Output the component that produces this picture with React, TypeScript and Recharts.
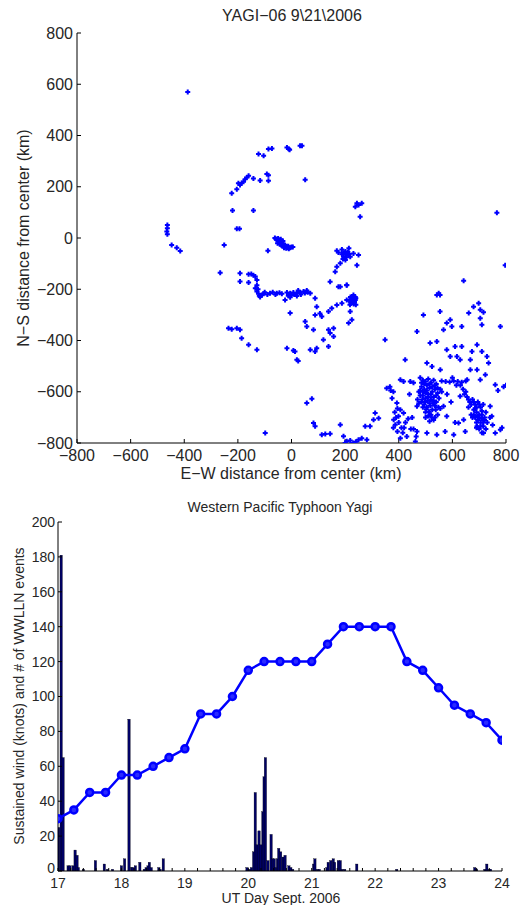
import React from "react";
import { Bar, ComposedChart, Line, Scatter, ScatterChart, XAxis, YAxis } from "recharts";

const FONT = "'Liberation Sans', Arial, Helvetica, sans-serif";
const INK = "#262626";

// ---- top panel: WWLLN strokes relative to storm center, km (E-W, N-S)
const farStrokes: [number, number][] = [
  [-387, 570], [-463, 51], [-463, 38], [-465, 25], [-463, 15], [-447, -27], [-428, -38], [-415, -51],
  [-251, -27], [766, 99], [797, -106], [642, -167], [549, -216], [554, -222], [-98, -761],
];
const northArc: [number, number][] = [
  [-223, 175], [-204, 190], [-198, 214], [-192, 207], [-186, 215], [-179, 220], [-173, 229], [-167, 236],
  [-160, 243], [-142, 232], [-117, 224], [-92, 250], [-86, 245], [-86, 223], [51, 227], [-220, 107],
  [-142, 107], [-204, 36], [-194, 36], [-123, 328], [-104, 321], [-86, 347], [-73, 349], [-17, 353],
  [-10, 347], [-7, 344], [32, 360], [39, 360], [244, 136], [250, 129], [262, 136], [238, 122], [256, 83],
];
const eyeStrokes: [number, number][] = [
  [-62, 0], [-55, -8], [-48, -12], [-42, -15], [-36, -18], [-30, -22], [-24, -28], [-18, -32], [-12, -32],
  [-5, -38], [0, -35], [-50, -2], [-58, -4], [-45, -8], [-32, -12], [-38, -28], [-28, -38], [-20, -40],
  [-10, -42], [5, -35], [-88, -50], [-52, -20], [-40, -5], [-44, -24], [-34, -30], [-15, -38],
];
const eastBand: [number, number][] = [
  [169, -50], [175, -57], [188, -63], [201, -53], [214, -40], [206, -66], [194, -73], [219, -73], [201, -86],
  [182, -99], [169, -112], [163, -132], [244, -106], [250, -66], [231, -60], [188, -45], [196, -58], [210, -55],
  [144, -171], [175, -190], [206, -184], [205, -75], [192, -82], [215, -62],
];
const southArc: [number, number][] = [
  [-266, -136], [-192, -138], [-160, -141], [-142, -145], [-150, -140], [-135, -150], [-192, -170],
  [-160, -174], [-129, -164], [-129, -184], [-135, -196], [-129, -209], [-123, -218], [-104, -218],
  [-80, -216], [-55, -216], [-36, -218], [-17, -213], [-5, -216], [7, -213], [20, -216], [32, -213],
  [45, -209], [57, -205], [70, -216], [-24, -242], [-5, -231], [20, -226], [10, -220], [0, -222],
  [-12, -225], [-110, -222], [-117, -230], [88, -235], [94, -268], [88, -300], [113, -306], [106, -295],
  [138, -287], [150, -274], [169, -261], [188, -255], [206, -242], [225, -235], [231, -222], [206, -183],
  [182, -190], [238, -242], [219, -287], [213, -332], [225, -319], [238, -230], [228, -250], [218, -260],
  [-125, -200], [-120, -225], [-100, -212], [-90, -220], [-70, -212], [-60, -220], [-45, -214],
  [25, -205], [35, -220], [50, -215], [60, -212], [220, -230], [225, -240], [230, -245], [235, -250],
  [240, -235], [222, -255], [232, -258], [240, -260], [215, -245],
];
const innerSouth: [number, number][] = [
  [-5, -293], [57, -345], [51, -326], [82, -358], [144, -371], [138, -358], [157, -384], [119, -397],
  [138, -423], [70, -436], [88, -443], [94, -430], [7, -439], [-17, -430], [20, -475], [13, -443],
  [157, -352], [25, -480], [-235, -352], [-223, -356], [-204, -352], [-192, -358], [-186, -391],
  [-160, -417], [-129, -436],
];
const southBand: [number, number][] = [
  [57, -644], [76, -627], [82, -722], [88, -735], [113, -768], [126, -765], [144, -764], [182, -729],
  [194, -774], [206, -793], [219, -790], [250, -787], [262, -781], [281, -787], [275, -735], [293, -735],
  [306, -709], [325, -703], [312, -683], [230, -800], [200, -800], [240, -795],
];
const rainband: [number, number][] = [
  [349, -397], [355, -586], [367, -580], [380, -600], [393, -644], [406, -670], [418, -683], [381, -709],
  [387, -729], [399, -696], [375, -625], [370, -595], [424, -475], [406, -553], [418, -560], [443, -560],
  [455, -565], [468, -365], [492, -300], [542, -222], [554, -287], [542, -404], [517, -410], [505, -488],
  [524, -501], [555, -514], [567, -358], [579, -332], [592, -319], [598, -345], [635, -345], [610, -423],
  [635, -423], [579, -436], [592, -462], [617, -462], [629, -475], [667, -475], [673, -443], [710, -443],
  [692, -417], [729, -462], [735, -488], [692, -514], [704, -553], [723, -534], [667, -514], [655, -553],
  [679, -268], [698, -255], [704, -280], [716, -290], [704, -313], [710, -339], [661, -293], [779, -345],
  [760, -573], [791, -580], [770, -595], [800, -575], [390, -700], [400, -720], [410, -740], [395, -755],
  [380, -740], [415, -760], [425, -720], [435, -705], [385, -680], [395, -665], [455, -745], [465, -775],
];
const denseWest: [number, number][] = [
  [480, -545], [490, -555], [500, -560], [510, -550], [520, -565], [530, -555], [540, -570], [485, -580],
  [495, -590], [505, -595], [515, -585], [525, -600], [535, -590], [545, -605], [490, -615], [500, -625],
  [510, -610], [520, -630], [530, -620], [540, -640], [495, -650], [505, -660], [515, -645], [525, -670],
  [535, -655], [500, -680], [510, -695], [520, -690], [530, -710], [545, -690], [475, -600], [470, -630],
  [485, -640], [550, -625], [560, -600], [560, -558], [575, -560], [590, -562], [605, -558], [620, -560],
  [635, -563], [650, -558], [600, -545], [615, -575], [485, -565], [495, -570], [505, -575], [515, -570],
  [525, -580], [535, -575], [545, -585], [555, -590], [480, -595], [490, -600], [500, -605], [510, -620],
  [520, -610], [530, -635], [540, -615], [488, -630], [498, -640], [508, -635], [518, -655], [528, -645],
  [538, -670], [548, -660], [503, -668], [513, -678], [523, -700], [535, -700], [515, -715], [500, -700],
  [490, -660], [480, -615],
];
const denseEast: [number, number][] = [
  [655, -620], [665, -640], [675, -630], [685, -650], [695, -640], [705, -660], [715, -650], [680, -670],
  [690, -680], [700, -690], [710, -675], [720, -700], [695, -710], [705, -720], [715, -735], [685, -700],
  [670, -690], [725, -680], [700, -745], [710, -760], [690, -740], [650, -600], [640, -590], [630, -575],
  [660, -660], [740, -700], [750, -730], [760, -761], [779, -748], [785, -740], [716, -761], [692, -735],
  [648, -755], [605, -768], [573, -755], [542, -768], [505, -761], [468, -755], [462, -794], [406, -781],
  [430, -775], [642, -709], [623, -722], [610, -720], [579, -696], [567, -657], [555, -665], [741, -657],
  [747, -696], [629, -618], [645, -610], [468, -657], [475, -645], [440, -610], [450, -700], [420, -740],
  [445, -745], [595, -640], [580, -610], [660, -630], [670, -650], [680, -640], [690, -660], [700, -650],
  [710, -690], [720, -710], [730, -720], [700, -700], [690, -720], [680, -690], [710, -705], [725, -745],
  [705, -735], [695, -695], [685, -665], [675, -700], [715, -720],
];
const kmTicks = [-800, -600, -400, -200, 0, 200, 400, 600, 800];

// ---- bottom panel: best-track wind (6-hourly) and WWLLN event counts
const windDay = [
  17, 17.25, 17.5, 17.75, 18, 18.25, 18.5, 18.75, 19, 19.25, 19.5, 19.75, 20, 20.25, 20.5,
  20.75, 21, 21.25, 21.5, 21.75, 22, 22.25, 22.5, 22.75, 23, 23.25, 23.5, 23.75, 24,
];
const windKnots = [
  30, 35, 45, 45, 55, 55, 60, 65, 70, 90, 90, 100, 115, 120, 120,
  120, 120, 130, 140, 140, 140, 140, 120, 115, 105, 95, 90, 85, 75,
];
const eventDay = [
  17.01, 17.05, 17.08, 17.16, 17.19, 17.24, 17.27, 17.3, 17.32, 17.4, 17.59, 17.73, 17.78, 17.86,
  18.0, 18.05, 18.12, 18.16, 18.18, 18.22, 18.29, 18.36, 18.39, 18.42, 18.44, 18.47, 18.59, 18.61, 18.66,
  19.98, 20.02, 20.05, 20.085, 20.11, 20.14, 20.17, 20.2, 20.23, 20.25, 20.27, 20.31, 20.36, 20.38,
  20.41, 20.43, 20.46, 20.48, 20.51, 20.55, 20.58, 20.64, 20.67, 20.7,
  21.03, 21.05, 21.09, 21.12, 21.24, 21.26, 21.3, 21.34, 21.36, 21.42, 21.45, 21.48, 21.52, 21.71,
  22.34, 23.57, 23.6, 23.73, 23.76, 23.8, 23.82,
];
const eventCount = [
  25, 181, 65, 3, 3, 3, 12, 9, 2, 1, 6, 4, 1, 1,
  3, 7, 87, 2, 2, 3, 5, 1, 2, 3, 5, 2, 2, 1, 7,
  2, 1, 2, 11, 45, 15, 23, 15, 34, 54, 65, 6, 21, 7,
  7, 2, 7, 13, 11, 8, 9, 3, 2, 1,
  4, 7, 1, 1, 2, 5, 6, 7, 5, 6, 6, 1, 1, 4,
  1, 2, 1, 1, 4, 1, 1,
];
const dayLabels = [17, 18, 19, 20, 21, 22, 23, 24];
const knotTicks = [0, 20, 40, 60, 80, 100, 120, 140, 160, 180, 200];

const strokes = [
  ...farStrokes, ...northArc, ...eyeStrokes, ...eastBand, ...southArc,
  ...innerSouth, ...southBand, ...rainband, ...denseWest, ...denseEast,
].map(([x, y]) => ({ x, y }));

type Row = { day: number; wind?: number; events?: number };
const rowMap = new Map<number, Row>();
windDay.forEach((d, i) => rowMap.set(d, { ...(rowMap.get(d) || { day: d }), wind: windKnots[i] }));
eventDay.forEach((d, i) => rowMap.set(d, { ...(rowMap.get(d) || { day: d }), events: eventCount[i] }));
const bottomData = [...rowMap.values()].sort((a, b) => a.day - b.day);

// tick marks every 0.2 day, labels only on whole days
const dayTicks = Array.from({ length: 36 }, (_, i) => +(17 + i * 0.2).toFixed(1));

const minus = (v: number) => (v < 0 ? `\u2212${-v}` : `${v}`);

const Plus = (p: any) => {
  const { cx, cy } = p;
  if (cx == null || cy == null) return <g />;
  return (
    <path
      d={`M${cx - 2.5},${cy}H${cx + 2.5}M${cx},${cy - 2.5}V${cy + 2.5}`}
      stroke="#0000ff"
      strokeWidth={2}
    />
  );
};

// histogram spike, fixed width (band size from data is too narrow)
const Spike = (p: any) => {
  const { x, y, width, height } = p;
  if (!height || height <= 0) return <g />;
  const cx = x + width / 2;
  return <rect x={cx - 1.2} y={y} width={2.4} height={height} fill="#000066" stroke="#000" strokeWidth={0.3} />;
};

// y tick label; the "0" sits a hair higher so it clears the "17" below it
const KnotTick = (p: any) => {
  const { x, y, payload } = p;
  const lift = payload.value === 0 ? -3 : 0;
  return (
    <text x={x} y={y + lift} dy="0.355em" textAnchor="end" fontSize={14} fontFamily={FONT} fill={INK}>
      {payload.value}
    </text>
  );
};

const txt = (size: number) => ({ fontSize: size, fontFamily: FONT, fill: INK });

function Label({ x, y, size, rotate, children }: any) {
  return (
    <div
      style={{
        position: "absolute",
        left: x,
        top: y,
        transform: `translate(-50%, -50%)${rotate ? " rotate(-90deg)" : ""}`,
        whiteSpace: "nowrap",
        fontFamily: FONT,
        fontSize: size,
        color: INK,
        lineHeight: 1,
      }}
    >
      {children}
    </div>
  );
}

export default function App() {
  return (
    <div style={{ position: "absolute", left: 0, top: 0, width: 523, height: 905, background: "#fff" }}>
      <div style={{ position: "absolute", left: 0, top: 0 }}>
        <ScatterChart width={523} height={480} margin={{ top: 33, right: 17, bottom: 7, left: 17 }}>
          <XAxis
            type="number"
            dataKey="x"
            domain={[-800, 800]}
            ticks={kmTicks}
            allowDataOverflow
            interval={0}
            height={30}
            tickSize={-4}
            tickMargin={11}
            tickFormatter={minus}
            tick={txt(16)}
            stroke="#000"
          />
          <XAxis
            xAxisId="top"
            orientation="top"
            type="number"
            domain={[-800, 800]}
            ticks={kmTicks}
            allowDataOverflow
            height={0}
            tickSize={-4}
            tick={false}
            stroke="#000"
          />
          <YAxis
            type="number"
            dataKey="y"
            domain={[-800, 800]}
            ticks={kmTicks}
            allowDataOverflow
            interval={0}
            width={60}
            tickSize={-4}
            tickMargin={8}
            tickFormatter={minus}
            tick={txt(16)}
            stroke="#000"
          />
          <YAxis
            yAxisId="right"
            orientation="right"
            type="number"
            domain={[-800, 800]}
            ticks={kmTicks}
            allowDataOverflow
            width={0}
            tickSize={-4}
            tick={false}
            stroke="#000"
          />
          <Scatter data={strokes} shape={<Plus />} isAnimationActive={false} />
        </ScatterChart>
      </div>
      <Label x={292} y={16} size={16}>YAGI{"\u2212"}06 9\21\2006</Label>
      <Label x={291} y={474} size={16}>E{"\u2212"}W distance from center (km)</Label>
      <Label x={24} y={238} size={16} rotate>N{"\u2212"}S distance from center (km)</Label>

      <div style={{ position: "absolute", left: 0, top: 480 }}>
        <ComposedChart width={523} height={425} data={bottomData} margin={{ top: 42, right: 21, bottom: 4, left: 18 }}>
          <XAxis
            type="number"
            dataKey="day"
            domain={[17, 24]}
            ticks={dayTicks}
            allowDataOverflow
            interval={0}
            height={30}
            tickSize={-3}
            tickMargin={10}
            tickFormatter={(v: number) => (dayLabels.includes(v) ? String(v) : "")}
            tick={txt(14)}
            stroke="#000"
          />
          <XAxis
            xAxisId="top"
            orientation="top"
            type="number"
            domain={[17, 24]}
            ticks={dayTicks}
            allowDataOverflow
            height={0}
            tickSize={-3}
            tick={false}
            stroke="#000"
          />
          <YAxis
            type="number"
            domain={[0, 200]}
            ticks={knotTicks}
            allowDataOverflow
            interval={0}
            width={40}
            tickSize={-4}
            tickMargin={7}
            tick={<KnotTick />}
            stroke="#000"
          />
          <YAxis
            yAxisId="right"
            orientation="right"
            type="number"
            domain={[0, 200]}
            ticks={knotTicks}
            allowDataOverflow
            width={0}
            tickSize={-4}
            tick={false}
            stroke="#000"
          />
          <Bar dataKey="events" shape={<Spike />} fill="#000066" isAnimationActive={false} />
          <Line
            dataKey="wind"
            connectNulls
            stroke="#0000ff"
            strokeWidth={2.5}
            dot={{ r: 3.5, fill: "#2a2aff", stroke: "#0000ff", strokeWidth: 2.5 }}
            isAnimationActive={false}
          />
        </ComposedChart>
      </div>
      <Label x={280} y={507} size={14}>Western Pacific Typhoon Yagi</Label>
      <Label x={281} y={898} size={14}>UT Day Sept. 2006</Label>
      <Label x={19} y={696} size={14} rotate>Sustained wind (knots) and # of WWLLN events</Label>
    </div>
  );
}
